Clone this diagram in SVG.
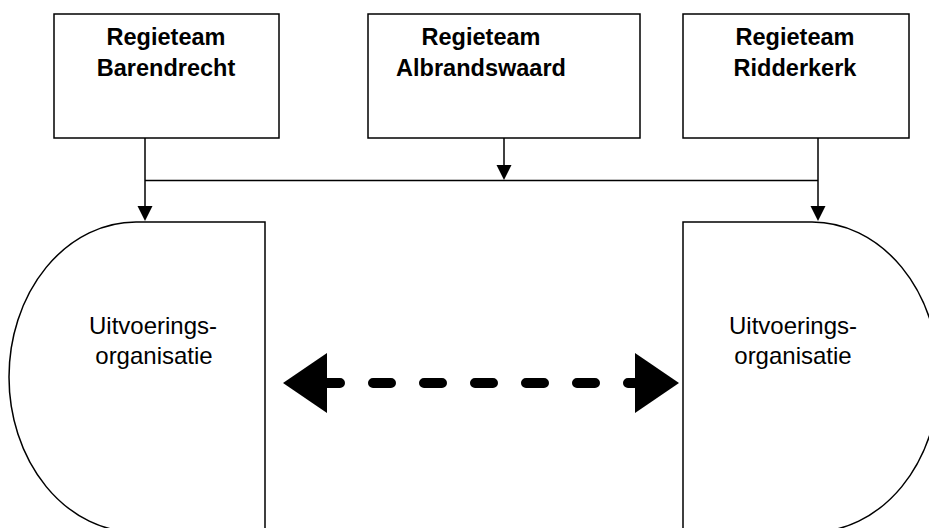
<svg xmlns="http://www.w3.org/2000/svg" width="929" height="528" viewBox="0 0 929 528">
<style>
.box{fill:#fff;stroke:#000;stroke-width:1.5}
.t{font-family:"Liberation Sans",Arial,sans-serif;font-weight:bold;font-size:23.5px;text-anchor:middle;fill:#000}
.u{font-family:"Liberation Sans",Arial,sans-serif;font-size:24px;text-anchor:middle;fill:#000}
.ln{fill:none;stroke:#000;stroke-width:1.5}
.ah{fill:#000}
</style>
<rect width="929" height="528" fill="#fff"/>
<g id="regie-barendrecht">
<rect class="box" x="54" y="14" width="225" height="124"/>
<text class="t" x="166" y="45">Regieteam</text>
<text class="t" x="166" y="76">Barendrecht</text>
</g>
<g id="regie-albrandswaard">
<rect class="box" x="368" y="14" width="272" height="124"/>
<text class="t" x="481" y="45">Regieteam</text>
<text class="t" x="481" y="76">Albrandswaard</text>
</g>
<g id="regie-ridderkerk">
<rect class="box" x="683" y="14" width="226" height="124"/>
<text class="t" x="795" y="45">Regieteam</text>
<text class="t" x="795" y="76">Ridderkerk</text>
</g>
<g id="uitvoering-links">
<path class="box" d="M265 222 L136 222 A127 155 0 0 0 136 532 L265 532 Z"/>
<text class="u" x="153" y="334">Uitvoerings-</text>
<text class="u" x="154" y="364">organisatie</text>
</g>
<g id="uitvoering-rechts">
<path class="box" d="M683 222 L812 222 A127 155 0 0 1 812 532 L683 532 Z"/>
<text class="u" x="793" y="334">Uitvoerings-</text>
<text class="u" x="793" y="364">organisatie</text>
</g>
<g id="connectors">
<line class="ln" x1="145" y1="138" x2="145" y2="208"/>
<polygon class="ah" points="145,221 137.5,206 152.5,206"/>
<line class="ln" x1="818" y1="138" x2="818" y2="208"/>
<polygon class="ah" points="818,221 810.5,206 825.5,206"/>
<line class="ln" x1="504" y1="138" x2="504" y2="167"/>
<polygon class="ah" points="504,180 496.5,165 511.5,165"/>
<line class="ln" x1="145" y1="180.5" x2="818" y2="180.5"/>
<line x1="322" y1="383" x2="646" y2="383" stroke="#000" stroke-width="10" stroke-linecap="round" stroke-dasharray="18 33"/>
<polygon class="ah" points="283,383 327,353 327,413"/>
<polygon class="ah" points="679,383 635,353 635,413"/>
</g>
</svg>
